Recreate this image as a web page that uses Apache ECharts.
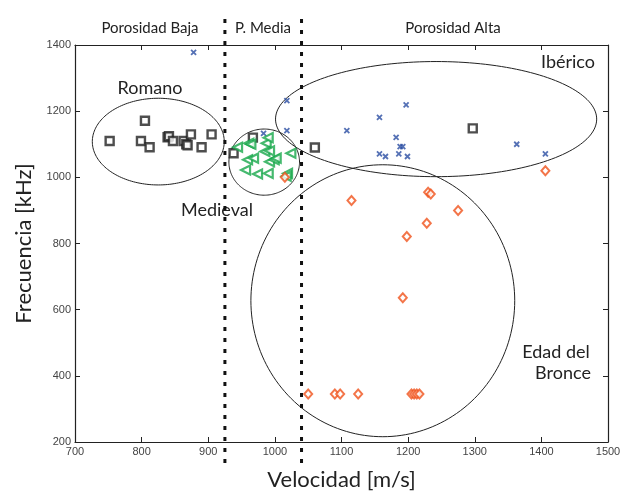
<!DOCTYPE html>
<html>
<head>
<meta charset="utf-8">
<script src="https://cdn.jsdelivr.net/npm/echarts@6/dist/echarts.min.js"></script>
<style>
  html, body { margin: 0; padding: 0; background: #fff; }
  #chart { width: 624px; height: 497px; }
</style>
</head>
<body>
<div id="chart"></div>
<script>
// Velocity (m/s) vs. frequency (kHz) of ceramic samples, grouped by period

// Black squares
const squarePts = [
  [752, 1110], [805, 1171], [799, 1110], [812, 1091], [839, 1121], [841, 1124],
  [847, 1110], [863, 1110], [867, 1100], [869, 1097], [874, 1130], [890, 1091],
  [905, 1130], [938, 1073], [967, 1120], [1060, 1090], [1297, 1148]
];
// Blue crosses
const crossPts = [
  [878, 1378], [983, 1133], [1018, 1232], [1018, 1141], [1108, 1141], [1157, 1181],
  [1197, 1219], [1182, 1121], [1188, 1093], [1192, 1093], [1157, 1071], [1166, 1063],
  [1186, 1071], [1199, 1063], [1363, 1100], [1406, 1071]
];
// Green triangles
const trianglePts = [
  [944, 1091], [961, 1103], [964, 1100], [987, 1103], [990, 1120], [985, 1078],
  [992, 1080], [959, 1053], [968, 1058], [992, 1047], [999, 1053], [1002, 1058],
  [1024, 1073], [956, 1022], [974, 1010], [990, 1012], [1019, 1012], [1017, 1003]
];
// Orange diamonds
const diamondPts = [
  [1050, 345], [1090, 345], [1098, 345], [1125, 345], [1205, 345], [1209, 345],
  [1213, 345], [1217, 345], [1192, 636], [1198, 821], [1228, 861], [1115, 930],
  [1230, 955], [1234, 950], [1275, 900], [1406, 1020], [1015, 1000]
];

// Group outlines: [centre velocity, centre frequency, half-width m/s, half-height kHz]
const groupEllipses = [
  [825, 1108, 99, 131],    // Romano
  [984, 1046, 53, 100],    // Medieval
  [1242, 1176, 241, 174],  // Ibérico
  [1162, 627, 198, 411]    // Edad del Bronce
];

// Porosity boundaries (m/s)
const porosityLimits = [925, 1040];

const xTicks = { min: 700, max: 1500, step: 100 };
const yTicks = { min: 200, max: 1400, step: 200 };

const FONT = 'Lato, "Open Sans", sans-serif';
const chart = echarts.init(document.getElementById('chart'), null, { renderer: 'canvas' });

const crossPath = 'path://M0,0 L10,10 M10,0 L0,10';

function ellipseItem(params, api) {
  const c = api.coord([api.value(0), api.value(1)]);
  const e = api.coord([api.value(0) + api.value(2), api.value(1) + api.value(3)]);
  const rx = Math.abs(e[0] - c[0]);
  const ry = Math.abs(e[1] - c[1]);
  const pts = [];
  for (let i = 0; i < 180; i++) {
    const t = i / 180 * Math.PI * 2;
    pts.push([c[0] + rx * Math.cos(t), c[1] + ry * Math.sin(t)]);
  }
  return {
    type: 'polygon',
    shape: { points: pts },
    style: { fill: 'none', stroke: '#222', lineWidth: 1 }
  };
}

function limitItem(params, api) {
  const top = api.coord([api.value(0), yTicks.max]);
  const bot = api.coord([api.value(0), yTicks.min]);
  return {
    type: 'line',
    shape: { x1: top[0], y1: top[1] - 26, x2: bot[0], y2: bot[1] + 22 },
    style: { stroke: '#111', lineWidth: 3, lineDash: [4, 7] }
  };
}

const plainNum = v => String(v);

const axisCommon = {
  axisLine: { lineStyle: { color: '#222', width: 1.2 } },
  axisTick: { inside: true, length: 5, lineStyle: { color: '#222' } },
  splitLine: { show: false }
};

const tickLabel = {
  fontFamily: 'Liberation Sans, Arial, sans-serif', fontSize: 11, color: '#444', margin: 4,
  formatter: plainNum
};

const headStyle = (text, size) => ({
  text: text, font: size + 'px ' + FONT, fill: '#222', align: 'center', verticalAlign: 'middle'
});

chart.setOption({
  animation: false,
  backgroundColor: '#fff',
  grid: { left: 75, right: 16, top: 45, bottom: 55 },
  xAxis: [
    Object.assign({
      type: 'value', min: xTicks.min, max: xTicks.max, interval: xTicks.step,
      name: 'Velocidad [m/s]', nameLocation: 'middle', nameGap: 27,
      nameTextStyle: { fontFamily: FONT, fontSize: 22, color: '#222' },
      axisLabel: tickLabel
    }, axisCommon),
    Object.assign({
      type: 'value', min: xTicks.min, max: xTicks.max, interval: xTicks.step,
      position: 'top', axisLabel: { show: false }
    }, axisCommon)
  ],
  yAxis: [
    Object.assign({
      type: 'value', min: yTicks.min, max: yTicks.max, interval: yTicks.step,
      name: 'Frecuencia [kHz]', nameLocation: 'middle', nameGap: 40,
      nameTextStyle: { fontFamily: FONT, fontSize: 22, color: '#222' },
      axisLabel: tickLabel
    }, axisCommon),
    Object.assign({
      type: 'value', min: yTicks.min, max: yTicks.max, interval: yTicks.step,
      position: 'right', axisLabel: { show: false }
    }, axisCommon)
  ],
  series: [
    {
      type: 'custom', renderItem: ellipseItem, data: groupEllipses, clip: false, silent: true, z: 1
    },
    {
      type: 'custom', renderItem: limitItem, data: porosityLimits.map(v => [v]), clip: false, silent: true, z: 1
    },
    {
      type: 'scatter', data: squarePts, symbol: 'rect', symbolSize: 8, z: 3,
      itemStyle: { color: '#fff', borderColor: '#222', borderWidth: 2.4 }
    },
    {
      type: 'scatter', data: crossPts, symbol: crossPath, symbolSize: 5, z: 3,
      itemStyle: { color: 'none', borderColor: '#2a4ea3', borderWidth: 1.8 }
    },
    {
      type: 'scatter', data: trianglePts, symbol: 'triangle', symbolSize: [9, 9], symbolRotate: 90, z: 3,
      itemStyle: { color: '#fff', borderColor: '#17a84a', borderWidth: 2.2 }
    },
    {
      type: 'scatter', data: diamondPts, symbol: 'diamond', symbolSize: [8, 9], z: 3,
      itemStyle: { color: '#fff', borderColor: '#f0521c', borderWidth: 2 }
    }
  ],
  graphic: [
    { type: 'text', x: 150, y: 28, style: headStyle('Porosidad Baja', 15) },
    { type: 'text', x: 263, y: 28, style: headStyle('P. Media', 15) },
    { type: 'text', x: 453, y: 28, style: headStyle('Porosidad Alta', 15) },
    { type: 'text', x: 150, y: 88, style: headStyle('Romano', 18) },
    { type: 'text', x: 568, y: 62, style: headStyle('Ibérico', 18) },
    { type: 'text', x: 217, y: 210, style: headStyle('Medieval', 18) },
    { type: 'text', x: 556, y: 352, style: headStyle('Edad del', 18) },
    { type: 'text', x: 563, y: 373, style: headStyle('Bronce', 18) }
  ]
});
</script>
</body>
</html>
